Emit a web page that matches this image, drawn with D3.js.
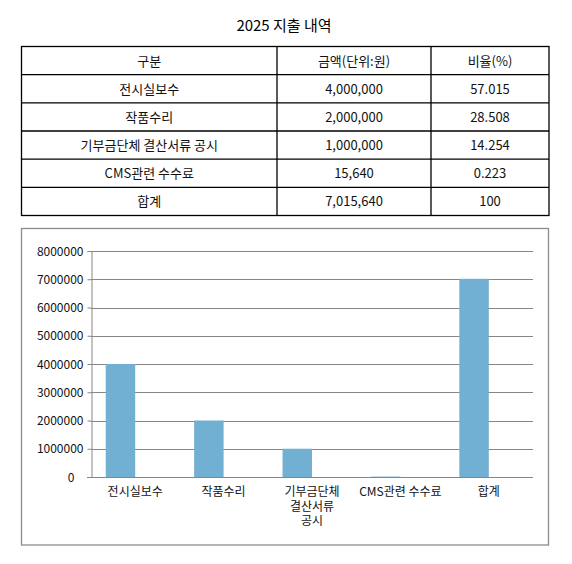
<!DOCTYPE html>
<html>
<head>
<meta charset="utf-8">
<script src="https://cdn.jsdelivr.net/npm/d3@7"></script>
<style>
body { margin: 0; background: #fff; }
text { font-family: "Noto Sans CJK KR", "Noto Sans", sans-serif; }
</style>
</head>
<body>
<div id="chart"></div>
<script>
var title = "2025 지출 내역";
var headers = ["구분", "금액(단위:원)", "비율(%)"];
var categories = ["전시실보수", "작품수리", "기부금단체 결산서류 공시", "CMS관련 수수료", "합계"];
var axisLabels = [["전시실보수"], ["작품수리"], ["기부금단체", "결산서류", "공시"], ["CMS관련 수수료"], ["합계"]];
var amounts = [4000000, 2000000, 1000000, 15640, 7015640];
var ratios = [57.015, 28.508, 14.254, 0.223, 100];
var series = ["금액", "비율"];
var yMax = 8000000;

var svg = d3.select("#chart").append("svg").attr("width", 572).attr("height", 564);

// title
svg.append("text").attr("x", 284).attr("y", 31).attr("text-anchor", "middle")
  .style("font-size", "15px").style("fill", "#000").text(title);

// table
var colX = [21.5, 277, 431, 549];
var rowY = d3.scaleLinear().domain([0, 6]).range([46.5, 215.5]);
var rows = [headers].concat(categories.map(function(c, i) {
  return [c, d3.format(",")(amounts[i]), String(ratios[i])];
}));

var tbl = svg.append("g");
tbl.append("rect").attr("x", colX[0]).attr("y", rowY(0)).attr("width", colX[3] - colX[0]).attr("height", rowY(6) - rowY(0))
  .style("fill", "none").style("stroke", "#000").style("stroke-width", 1.3);
tbl.selectAll("line.r").data(d3.range(1, 6)).enter().append("line")
  .attr("x1", colX[0]).attr("x2", colX[3]).attr("y1", rowY).attr("y2", rowY)
  .style("stroke", "#000").style("stroke-width", 1.3);
tbl.selectAll("line.c").data([colX[1], colX[2]]).enter().append("line")
  .attr("x1", function(d) { return d; }).attr("x2", function(d) { return d; })
  .attr("y1", rowY(0)).attr("y2", rowY(6))
  .style("stroke", "#000").style("stroke-width", 1.3);
rows.forEach(function(r, i) {
  r.forEach(function(t, j) {
    tbl.append("text").attr("x", (colX[j] + colX[j + 1]) / 2).attr("y", (rowY(i) + rowY(i + 1)) / 2 + 5)
      .attr("text-anchor", "middle").style("font-size", "13px").style("fill", "#111").text(t);
  });
});

// chart box
svg.append("rect").attr("x", 21.5).attr("y", 228.5).attr("width", 527).attr("height", 316.5)
  .style("fill", "none").style("stroke", "#8c8c8c").style("stroke-width", 1.3);

var plotL = 91, plotR = 533, plotT = 251, plotB = 477;
var x = d3.scaleBand().domain(categories).range([plotL, plotR]).paddingInner(1 / 3).paddingOuter(1 / 6);
var xs = d3.scaleBand().domain(series).range([0, x.bandwidth()]);
var y = d3.scaleLinear().domain([0, yMax]).range([plotB, plotT]);

var g = svg.append("g");
// gridlines
g.selectAll("line.grid").data(y.ticks(8).slice(1)).enter().append("line")
  .attr("x1", plotL).attr("x2", plotR)
  .attr("y1", function(d) { return Math.round(y(d)) + 0.5; })
  .attr("y2", function(d) { return Math.round(y(d)) + 0.5; })
  .style("stroke", "#868686").style("stroke-width", 1);

// y axis
var yAxis = g.append("g").attr("transform", "translate(" + (plotL + 0.5) + ",0)")
  .call(d3.axisLeft(y).ticks(8).tickSize(4).tickPadding(4).tickFormat(d3.format("d")));
yAxis.select(".domain").style("stroke", "#868686");
yAxis.selectAll(".tick line").style("stroke", "#868686");
yAxis.selectAll("text").style("font-size", "12px").style("fill", "#111").attr("dy", "0.35em");
yAxis.selectAll(".tick").filter(function(d) { return d === 0; }).select("text").attr("x", -17);

// bars
var vals = [amounts, ratios];
series.forEach(function(s, k) {
  g.selectAll("rect.b" + k).data(categories).enter().append("rect")
    .attr("x", function(d) { return x(d) + xs(s); })
    .attr("width", xs.bandwidth())
    .attr("y", function(d, i) { return y(vals[k][i]); })
    .attr("height", function(d, i) { return plotB - y(vals[k][i]); })
    .style("fill", "#72b0d3");
});

// x axis line
g.append("line").attr("x1", plotL - 4).attr("x2", plotR).attr("y1", plotB + 0.5).attr("y2", plotB + 0.5)
  .style("stroke", "#868686");

// category labels
categories.forEach(function(c, i) {
  var cx = x(c) + x.bandwidth() / 2;
  var t = g.append("text").attr("text-anchor", "middle").style("font-size", "12px").style("fill", "#111")
    .attr("x", cx).attr("y", 496);
  axisLabels[i].forEach(function(line, j) {
    t.append("tspan").attr("x", cx).attr("dy", j === 0 ? 0 : 14.7).text(line);
  });
});
</script>
</body>
</html>
